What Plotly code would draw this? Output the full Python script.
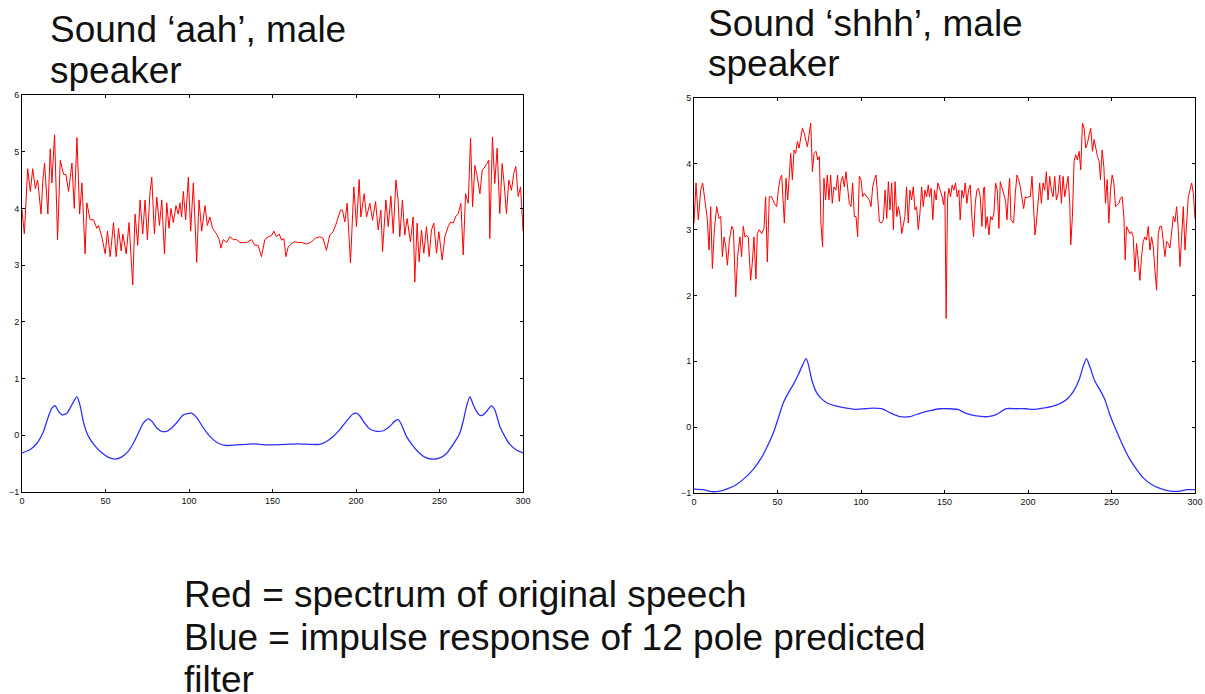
import plotly.graph_objects as go

# ---------------- data: 'aah' ----------------
aah_red_x = [0, 1.4, 3.4, 5, 6.4, 8, 9.4, 11.4, 12.5, 13.5, 15.5, 16.9, 17.9, 19.5, 21.3, 22.9, 24.9, 26.3, 27.9, 29.9,
             31.3, 32.9, 34.5, 35.9, 37.8, 38.8, 40.8, 42.8, 44.8, 45.8, 47.8, 49.8, 51.2, 52.8, 54.8, 56.4, 57.8, 59.4,
             60.4, 62.4, 64.1, 66.3, 67.7, 69.3, 70.7, 72.3, 73.7, 75.1, 76.7, 77.7, 79.3, 80.7, 82.3, 83.7, 85.3, 86.7,
             88, 89.2, 90.6, 92.2, 93.6, 94.6, 95.6, 96.6, 98, 99.6, 101, 102.6, 104.6, 106, 107.6, 109.6, 111, 112.5,
             114.1, 116.5, 118.1, 119.1, 120.5, 122.5, 124.5, 126.5, 128.5, 130.5, 132.5, 134.5, 137.5, 139.4, 141.4,
             143.4, 145.4, 147.4,
             149.4, 150.8, 152.4, 154, 155.4, 156.8, 158, 159.4, 161.4, 163.4, 165.4, 167.4, 170.4, 173.4, 175.3, 178.3,
             180.3, 182.3, 184.3, 186.3, 187.9, 189.3, 190.7, 191.9, 193.3, 194.7, 196.7, 198.7, 200.3, 201.9, 202.9,
             204.9, 206.3, 208.3, 209.9, 211.7, 213.3, 214.9, 215.9, 217.9, 219.3, 220.9, 222.3, 223.9, 225.2, 226.2,
             227.8, 229.2, 230.6, 232.6, 234.2, 235.2, 236.6, 237.8, 239.2, 240.6, 242.2, 243.8, 245.2, 246.6, 248.2,
             249.6, 251.6, 253.2, 255.2, 256.6, 258.2, 259.6, 261.2, 262.8, 264.2, 265.6, 267.2, 268.6, 269.8, 271.2,
             272.6, 274.2, 275.6, 276.7, 278.1, 279.5, 280.1, 281.7, 283.1, 284.5, 286.1, 287.5, 288.7, 290.1, 291.5,
             293.1, 294.5, 295.7, 297.1, 298.5, 299.7, 300]
aah_red_y = [3.97, 3.55, 4.7, 4.3, 4.7, 4.35, 4.5, 3.9, 4.5, 4.8, 3.9, 5.05, 4.45, 5.3, 3.45, 4.85, 4.6, 4.6, 4.3, 4.8,
             4.0, 5.25, 3.9, 4.45, 3.2, 4.1, 3.8, 3.8, 3.65, 3.7, 3.5, 3.2, 3.6, 3.15, 3.75, 3.15, 3.65, 3.25,
             3.55, 3.2, 3.75, 2.65, 3.9, 3.35, 4.15, 3.55, 4.15, 3.45, 4.3, 4.55, 3.55, 4.2, 3.7, 4.15, 3.2, 4.1,
             3.65, 4.0, 3.75, 4.05, 3.9, 4.1, 3.85, 4.3, 3.8, 4.55, 3.6, 4.45, 3.05, 4.15, 3.6, 4.05, 3.7, 3.85,
             3.65, 3.55, 3.45, 3.3, 3.45, 3.4, 3.5, 3.45, 3.45, 3.4, 3.4, 3.4, 3.45, 3.35, 3.35,
             3.15, 3.45, 3.5,
             3.52, 3.6, 3.5, 3.55, 3.44, 3.47, 3.15, 3.32, 3.38, 3.41, 3.4, 3.4, 3.37, 3.41, 3.47, 3.5,
             3.47, 3.26, 3.53, 3.59, 3.71, 3.85, 3.97, 3.97, 3.76, 4.09, 3.04, 4.38, 3.68, 4.51, 3.85,
             4.26, 3.85, 4.09, 3.79, 4.12, 3.62, 3.97, 3.24, 4.15, 3.68, 4.22, 3.56, 4.5, 4.15, 3.5,
             4.15, 3.53, 3.82, 3.41, 3.85, 2.7, 3.74, 3.06, 3.62, 3.21, 3.68, 3.15, 3.62, 3.74, 3.21,
             3.59, 3.09, 3.5, 3.68, 3.76, 3.74, 3.85, 3.91, 4.09, 3.18, 4.26, 4.09, 5.24, 4.03, 4.76,
             4.56, 4.26, 4.68, 4.71, 4.79, 4.85, 3.47, 5.26, 4.44, 5.06, 3.91, 4.79, 4.44, 3.91, 4.5,
             4.32, 4.62, 4.74, 4.21, 4.38, 3.79, 3.6]

aah_blue_x = [0, 5, 9, 12.9, 15.9, 17.9, 19.9, 21.9, 23.9, 26.9, 29.9, 32.9, 34.9, 36.9, 39.8, 43.8, 47.8, 51.8, 55.8,
              59.8, 63.7, 66.7, 69.7, 72.7, 75.7, 77.7, 80.7, 83.7, 86.7, 89.6, 92.6, 96.6, 101.6, 104.6, 108.6,
              112.5, 117.5, 122.5, 128.5, 134.5, 138.4, 142.4, 148.4, 150.4, 158.4, 165.4, 172.4, 178.3, 182.3,
              186.3, 190.3, 194.3, 198.3, 200.3, 202.3, 205.3, 208.3, 212.3, 216.3, 220.3, 223.3, 225.2, 227.2,
              230.2, 234.2, 238.2, 242.2, 246.2, 250.2, 254.2, 258.2, 262.2, 264.2, 266.2, 268.2, 270.2, 272.2,
              274.2, 276.2, 278.2, 281.1, 283.1, 286.1, 289.1, 292.1, 296.1, 300]
aah_blue_y = [-0.31, -0.25, -0.14, 0.07, 0.34, 0.48, 0.52, 0.42, 0.36, 0.39, 0.54, 0.68, 0.51, 0.22, -0.02, -0.19, -0.31,
              -0.39, -0.42, -0.38, -0.28, -0.14, 0.04, 0.22, 0.29, 0.25, 0.13, 0.07, 0.07, 0.13, 0.22, 0.36, 0.39,
              0.31, 0.13, -0.02, -0.14, -0.18, -0.17, -0.16, -0.15, -0.16, -0.17, -0.17, -0.16, -0.15, -0.16, -0.16,
              -0.11, -0.02, 0.1, 0.25, 0.38, 0.39, 0.34, 0.21, 0.11, 0.07, 0.08, 0.16, 0.25, 0.28, 0.19, -0.02,
              -0.19, -0.32, -0.4, -0.42, -0.4, -0.32, -0.16, 0.04, 0.25, 0.51, 0.68, 0.54, 0.42, 0.35, 0.36, 0.42,
              0.52, 0.45, 0.16, -0.02, -0.16, -0.26, -0.31]

# ---------------- data: 'shhh' ----------------
shhh_red_x = [0, 1.2, 2.6, 4, 5.2, 6.6, 8, 9, 10, 11, 12.2, 13.6, 15, 16, 17, 18, 19, 20, 21.2, 22.6, 23.6, 25, 26.1,
              27.5, 28.5, 29.5, 30.5, 31.5, 32.5, 33.9, 34.9, 35.9, 37.1, 37.9, 39.1, 40.5, 41.9, 42.9, 43.9, 45.1,
              46.5, 48.1, 49.5, 50.5, 51.5, 52.5, 53.5, 54.1, 55.1, 56.1, 57.1, 57.9, 58.9, 59.9, 60.9, 61.9, 62.9,
              63.9, 64.9, 65.9, 66.9, 67.9, 68.9, 69.9, 70.9, 71.9, 73.1, 74.1, 75.1, 76, 77, 77.8, 78.8, 79.8, 80.8,
              81.8, 82.8, 83.8, 85, 86, 87, 88, 89, 90, 91, 92, 93, 94, 95, 96, 97, 98, 99, 100, 101, 102, 103.4,
              105, 106, 107, 108, 109, 110, 111, 112.2, 113.4, 114.4, 115.4, 116.4, 117.4, 118.4, 119.4, 120.4,
              121.4, 122.4, 123.4, 124.4, 125.4, 126.3, 127.3, 128.3, 129.3, 130.3, 131.3, 132.3, 133.3, 134.3,
              135.3, 136.3, 137.3, 138.3, 139.3, 140.3,
              141, 142, 143, 144, 145, 146, 147.4, 148.6, 149.4, 150.2, 151, 151.8, 152.6, 153.6, 154.6, 155.6,
              156.6, 157.6, 158.6, 159.4, 160.4, 161.4, 162.4, 163.4, 164.4, 165.4, 166.4, 167.4, 168.4, 169.4,
              170.4, 171.4, 172.4, 173.4, 174, 174.6, 175.6, 176.6, 177.6, 178.6, 179.6, 180.6, 181.6, 182.6, 183.4,
              184.4, 185.4, 186.6, 187.4, 188.4, 189, 189.8, 190.6, 191.4, 192.4, 193.4, 194.4, 195.4, 196.4, 197.4,
              198.4, 199.4, 200.4, 201.4, 202.4, 203.4, 204.2, 205, 206, 207, 208, 209, 210, 211, 212, 213, 214,
              215, 216, 217, 218, 219, 220, 221, 222, 223, 224, 225, 225.6, 226.6, 227.6, 228.6, 229.6, 230.6,
              231.6, 232.6, 233.6, 234.6, 235.6, 236.6, 237.6, 238.6, 239.6, 240.6, 241.6, 242.6, 243.4, 244.4,
              245.4, 246.4, 247.4, 248.4, 249.4, 250.4, 251.4, 252.4, 253.4, 254.4, 255.4, 256.4, 257.4, 258.2,
              259, 260, 261, 262, 263, 264, 265, 266, 267, 268, 269, 270, 271, 272, 273, 274, 275, 276, 277, 278,
              279, 280, 281, 282, 283, 284, 285, 286, 287, 288, 289, 290, 291, 292, 293, 294, 295, 296, 297, 298,
              299, 300]
shhh_red_y = [3.1, 3.71, 3.15, 3.6, 3.71, 3.4, 3.15, 2.69, 3.35, 2.41, 3.0, 3.35, 3.17, 3.2, 2.59, 2.89, 2.74, 2.46,
              2.84, 3.05, 3.0, 1.98, 2.59, 2.89, 2.59, 3.05, 2.89, 2.91, 2.89, 2.23, 2.49, 2.89, 2.25, 2.94, 3.0,
              2.94, 3.02, 3.5, 2.51, 3.5, 3.5, 3.4, 3.35, 3.6, 3.76, 3.83, 3.25, 3.1, 3.78, 3.45, 3.83, 4.16, 3.76,
              4.21, 4.16, 4.34, 4.24, 4.39, 4.54, 4.47, 4.34, 4.26, 4.44, 4.62, 3.88, 4.16, 4.19, 4.06, 4.11, 3.1,
              2.74, 3.78, 3.45, 3.83, 3.45, 3.83, 3.4, 3.65, 3.6, 3.83, 3.43, 3.73, 3.81, 3.65, 3.88, 3.58, 3.4,
              3.35, 3.71, 3.2, 3.2, 2.89, 3.81, 3.76, 3.5, 3.55, 3.5, 3.45, 3.35, 3.65, 3.76, 3.83, 3.5, 3.12, 3.1,
              3.15, 3.6, 3.17, 3.73, 3.3, 3.71, 3.0, 3.73, 3.2, 3.35, 3.22, 2.94, 3.1, 3.2, 3.65, 3.1, 3.6, 3.45,
              3.65, 3.3, 3.35, 3.0, 3.25, 3.65, 3.35, 3.6, 3.5, 3.68,
              3.5, 3.63, 3.15, 3.6, 3.45, 3.71, 3.6, 3.5, 3.38, 3.58, 1.65, 3.45, 3.63, 3.5, 3.68, 3.6,
              3.71, 3.5, 3.6, 3.15, 3.6, 3.48, 3.71, 3.4, 3.6, 3.68, 3.2, 2.89, 3.4, 3.6,
              3.63, 3.5, 3.05, 3.63, 3.65, 3.02, 3.2, 2.92, 3.2, 3.15, 3.25, 3.71, 3.6, 3.02, 3.73,
              3.65, 3.55, 3.43, 3.15, 3.6, 3.78, 3.15, 3.12, 3.1, 3.55, 3.83, 3.76, 3.65, 3.48, 3.32,
              3.5, 3.48, 3.5, 3.5, 3.81, 3.4, 2.92, 3.1, 3.35, 3.71, 3.4, 3.71, 3.6, 3.88, 3.45, 3.81, 3.6,
              3.5, 3.81, 3.45, 3.55, 3.83, 3.4, 3.81, 3.5, 3.65, 3.81, 3.4, 2.77, 3.2, 4.04, 4.14, 4.06, 4.19,
              3.91, 4.62, 4.54, 4.24, 4.31, 4.44, 4.54, 4.19, 4.37, 4.24, 4.11, 4.04, 3.76, 4.21,
              3.96, 3.4, 3.76, 3.1, 3.6, 3.83, 3.71, 3.35, 3.38, 3.4, 3.48, 3.5, 3.2, 2.54,
              3.05, 3.0, 2.94, 2.97, 2.89, 2.36, 2.79, 2.54, 2.23, 2.59, 2.82, 2.89, 2.84, 3.05, 2.69, 2.89, 2.74,
              2.39, 2.08, 2.94, 3.05, 3.05, 2.84, 2.59, 2.82, 2.79, 2.72, 3.0, 3.2, 3.12, 3.35, 3.0, 2.44, 2.89,
              3.35, 2.69, 3.2, 3.5, 3.6, 3.71, 3.55, 3.17]

shhh_blue_x = [0, 5.6, 10.6, 15.6, 20.6, 25.5, 30.5, 35.5, 40.5, 44.5, 47.5, 50.5, 53.5, 56.5, 59.5, 62.5, 65.1, 67.1,
               68.5, 70.5, 73.5, 76.4, 80.4, 85.4, 91.4, 97.4, 102.4, 107.4, 112.4, 117.4, 123.4, 129.3, 135.3,
               141.3, 147, 153, 158, 163, 169, 176, 181, 187, 193, 199, 203, 209, 215, 220, 224, 227.4, 230.6, 233,
               235, 237, 240, 243, 246, 249, 253, 257, 261, 265, 269, 274, 279, 285, 291, 295, 300]
shhh_blue_y = [-0.94, -0.95, -0.98, -0.97, -0.93, -0.87, -0.77, -0.64, -0.46, -0.26, -0.09, 0.14, 0.37, 0.52, 0.65,
               0.8, 0.95, 1.04, 0.95, 0.72, 0.52, 0.43, 0.36, 0.32, 0.29, 0.27, 0.28, 0.29, 0.28, 0.22, 0.16, 0.16,
               0.21, 0.25, 0.28, 0.28, 0.27, 0.21, 0.17, 0.16, 0.19, 0.28, 0.28, 0.28, 0.27, 0.29, 0.32, 0.37, 0.44,
               0.55, 0.72, 0.92, 1.04, 0.92, 0.7, 0.57, 0.42, 0.19, -0.06, -0.29, -0.49, -0.64, -0.77, -0.87, -0.93,
               -0.97, -0.97, -0.95, -0.95]

x_tickvals = [0, 50, 100, 150, 200, 250, 300]
left_ytickvals = [-1, 0, 1, 2, 3, 4, 5, 6]
right_ytickvals = [-1, 0, 1, 2, 3, 4, 5]

left_title = ["Sound \u2018aah\u2019, male", "speaker"]
right_title = ["Sound \u2018shhh\u2019, male", "speaker"]
caption = ["Red = spectrum of original speech",
           "Blue = impulse response of 12 pole predicted",
           "filter"]

RED = "#ff0000"
BLUE = "#2f2fff"

W, H = 1205, 694

fig = go.Figure()
fig.add_trace(go.Scatter(x=aah_red_x, y=aah_red_y, mode="lines", line=dict(color=RED, width=1),
                         xaxis="x", yaxis="y", hoverinfo="skip"))
fig.add_trace(go.Scatter(x=aah_blue_x, y=aah_blue_y, mode="lines", line=dict(color=BLUE, width=1.3, shape="spline", smoothing=0.6),
                         xaxis="x", yaxis="y", hoverinfo="skip"))
fig.add_trace(go.Scatter(x=shhh_red_x, y=shhh_red_y, mode="lines", line=dict(color=RED, width=1),
                         xaxis="x2", yaxis="y2", hoverinfo="skip"))
fig.add_trace(go.Scatter(x=shhh_blue_x, y=shhh_blue_y, mode="lines", line=dict(color=BLUE, width=1.3, shape="spline", smoothing=0.6),
                         xaxis="x2", yaxis="y2", hoverinfo="skip"))

def px_x(p):
    return p / W

def px_y(p):
    return 1 - p / H

tickfont = dict(family="Liberation Sans, Arial, sans-serif", size=9, color="#111111")
axis_common = dict(showline=True, linecolor="black", linewidth=1, mirror="ticks", ticks="inside",
                   ticklen=3, tickcolor="black", showgrid=False, zeroline=False, tickfont=tickfont,
                   automargin=False)

fig.update_layout(
    width=W, height=H,
    margin=dict(l=0, r=0, t=0, b=0, autoexpand=False),
    paper_bgcolor="white", plot_bgcolor="white",
    showlegend=False,
    xaxis=dict(domain=[px_x(22), px_x(523)], range=[0, 300], tickvals=x_tickvals, anchor="y", **axis_common),
    yaxis=dict(domain=[px_y(492), px_y(95)], range=[-1, 6], tickvals=left_ytickvals, anchor="x", **axis_common),
    xaxis2=dict(domain=[px_x(694), px_x(1195)], range=[0, 300], tickvals=x_tickvals, anchor="y2", **axis_common),
    yaxis2=dict(domain=[px_y(493), px_y(98)], range=[-1, 5], tickvals=right_ytickvals, anchor="x2", **axis_common),
)

textfont = dict(family="Liberation Sans, Arial, sans-serif", size=37, color="#111111")

def add_line(text, x_px, y_center_px):
    fig.add_annotation(text=text, xref="paper", yref="paper", x=px_x(x_px), y=px_y(y_center_px),
                       xanchor="left", yanchor="middle", showarrow=False, font=textfont)

add_line(left_title[0], 48, 30)
add_line(left_title[1], 48, 70)
add_line(right_title[0], 706, 23)
add_line(right_title[1], 706, 63)
add_line(caption[0], 182, 594)
add_line(caption[1], 182, 637)
add_line(caption[2], 182, 679)

fig.write_html("out.html", config={"displayModeBar": False},
               post_script="document.body.style.margin='0';document.body.style.overflow='hidden';")
